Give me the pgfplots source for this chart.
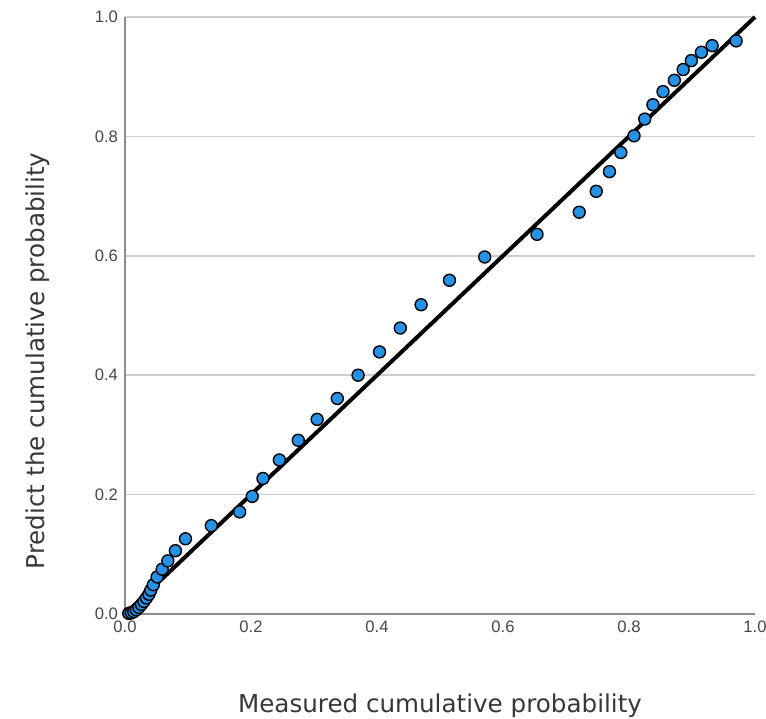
\documentclass[border=0pt]{standalone}
\usepackage{fontspec}
\setmainfont{Liberation Sans}
\newfontfamily\labelfont{DejaVu Sans}
\usepackage{pgfplots}
\pgfplotsset{compat=1.18}
\definecolor{ptblue}{RGB}{38,146,230}
\definecolor{gridgray}{RGB}{206,206,206}
\definecolor{axgray}{RGB}{140,140,140}
\definecolor{tickgray}{RGB}{70,70,70}
\definecolor{labgray}{RGB}{55,55,55}

\begin{document}
\begin{tikzpicture}
\useasboundingbox (-62.5pt,-52pt) rectangle (320.5pt,307pt);
\begin{axis}[
    scale only axis,
    width=315pt, height=298.5pt,
    xmin=0, xmax=1, ymin=0, ymax=1,
    clip=false,
    axis x line=bottom, axis y line=left,
    x axis line style={-, axgray, line width=1pt},
    y axis line style={-, axgray, line width=1pt},
    xtick={0,0.2,0.4,0.6,0.8,1}, ytick={0,0.2,0.4,0.6,0.8,1},
    major tick length=0pt,
    ymajorgrids,
    grid style={gridgray, line width=0.75pt},
    /pgf/number format/.cd, fixed, fixed zerofill, precision=1, assume math mode=true,
    /pgfplots/.cd,
    ticklabel style={font=\fontsize{8.3}{9}\selectfont, text=tickgray},
    xlabel={Measured cumulative probability},
    ylabel={Predict the cumulative probability},
    xlabel style={at={(axis description cs:0.5,-0.1658)}, anchor=base,
        font=\labelfont\fontsize{12.3}{14}\selectfont, text=labgray},
    ylabel style={at={(axis description cs:-0.128,0.424)}, anchor=base,
        font=\labelfont\fontsize{12.3}{14}\selectfont, text=labgray},
]
% reference diagonal
\addplot[black, line width=2pt] coordinates {(0,0) (1,1)};
% measured vs predicted points
\addplot[only marks, mark=*, mark size=3pt,
    mark options={fill=ptblue, draw=black, line width=0.7pt}] coordinates {
    (0.006,0.001) (0.010,0.002) (0.014,0.004) (0.018,0.007) (0.022,0.011)
    (0.026,0.016) (0.030,0.021) (0.034,0.027) (0.038,0.033) (0.041,0.040)
    (0.045,0.049) (0.051,0.062) (0.059,0.075) (0.068,0.089) (0.080,0.106)
    (0.096,0.126) (0.137,0.148) (0.182,0.171) (0.202,0.197) (0.219,0.227)
    (0.245,0.258) (0.275,0.291) (0.305,0.326) (0.337,0.361) (0.370,0.400)
    (0.404,0.439) (0.437,0.479) (0.470,0.518) (0.515,0.559) (0.571,0.598)
    (0.654,0.636) (0.721,0.673) (0.748,0.708) (0.769,0.741) (0.787,0.773)
    (0.808,0.801) (0.825,0.829) (0.838,0.853) (0.854,0.875) (0.872,0.894)
    (0.886,0.912) (0.899,0.927) (0.915,0.941) (0.932,0.952) (0.970,0.960)
};
\end{axis}
\end{tikzpicture}
\end{document}
